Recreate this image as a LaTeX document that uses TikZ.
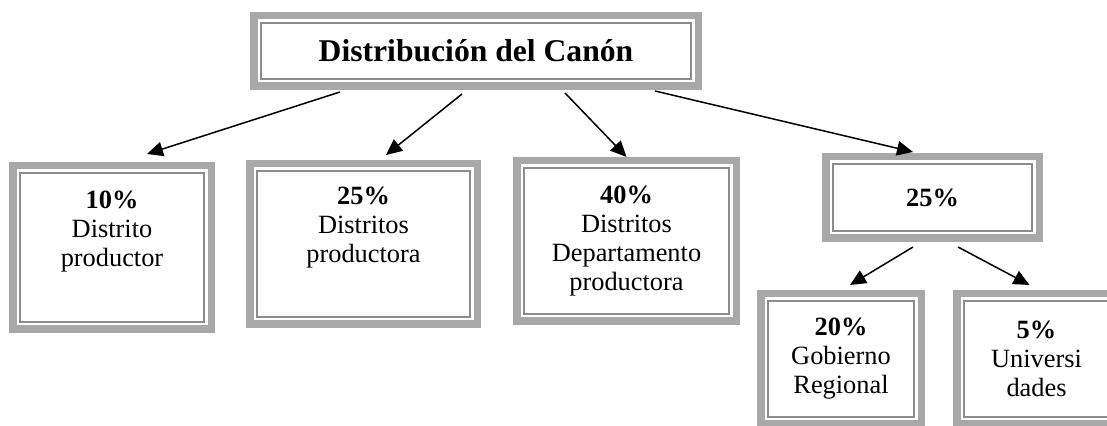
\documentclass[tikz,border=0pt]{standalone}
\usepackage{fontspec}
\setmainfont{Liberation Serif}
\usetikzlibrary{calc,arrows.meta}

\begin{document}
\begin{tikzpicture}[
  frame/.style={draw=gray!68, line width=0.15cm, fill=white, align=center,
    inner sep=0pt, font=\fontsize{15}{16.5}\selectfont},
  innerframe/.style={draw=gray!90, line width=0.03cm},
  arr/.style={-{Triangle[length=0.32cm,width=0.29cm]}, line width=0.03cm}
]
  \useasboundingbox[fill=white] (0,0) rectangle (22.14,8.52);
  % Nodes
  \node[frame, minimum width=8.89cm, minimum height=1.41cm,
    font=\fontsize{18}{20}\selectfont\bfseries] (canon) at (9.52, 7.50) {Distribución del Canón};
  \node[frame, minimum width=3.97cm, minimum height=3.27cm] (distrito) at (2.24, 3.57)
    {\textbf{10\%}\\Distrito\\productor\\ \strut};
  \node[frame, minimum width=4.55cm, minimum height=3.21cm] (distritos) at (7.27, 3.64)
    {\textbf{25\%}\\Distritos\\productora\\ \strut};
  \node[frame, minimum width=4.39cm, minimum height=3.21cm] (depto) at (12.53, 3.70)
    {\textbf{40\%}\\Distritos\\Departamento\\productora};
  \node[frame, minimum width=4.27cm, minimum height=1.63cm] (resto) at (18.65, 4.57)
    {\textbf{25\%}};
  \node[frame, minimum width=3.21cm, minimum height=2.61cm] (gobierno) at (16.82, 1.34)
    {\textbf{20\%}\\Gobierno\\Regional};
  \node[frame, minimum width=3.19cm, minimum height=2.61cm] (univ) at (20.73, 1.34)
    {\textbf{5\%}\\Universi\\dades};

  % Inner lines
  \foreach \n in {canon, distrito, distritos, depto, resto, gobierno, univ}
    \draw[innerframe] ($(\n.north west)+(0.22,-0.22)$) rectangle ($(\n.south east)+(-0.22,0.22)$);

  % Edges
  \draw[arr] ([xshift=-2.72cm, yshift=-0.04cm]canon.south) -- ([xshift=0.70cm, yshift=0.16cm]distrito.north);
  \draw[arr] ([xshift=-0.28cm, yshift=-0.08cm]canon.south) -- ([xshift=0.45cm, yshift=0.10cm]distritos.north);
  \draw[arr] ([xshift=1.78cm, yshift=-0.06cm]canon.south) -- ([xshift=0.00cm, yshift=0.00cm]depto.north);
  \draw[arr] ([xshift=3.58cm, yshift=-0.02cm]canon.south) -- ([xshift=-0.39cm, yshift=0.02cm]resto.north);

  \draw[arr] ([xshift=-0.39cm, yshift=-0.10cm]resto.south) -- ([xshift=0.18cm, yshift=0.10cm]gobierno.north);
  \draw[arr] ([xshift=0.51cm, yshift=-0.10cm]resto.south) -- ([xshift=-0.14cm, yshift=0.10cm]univ.north);
\end{tikzpicture}
\end{document}
